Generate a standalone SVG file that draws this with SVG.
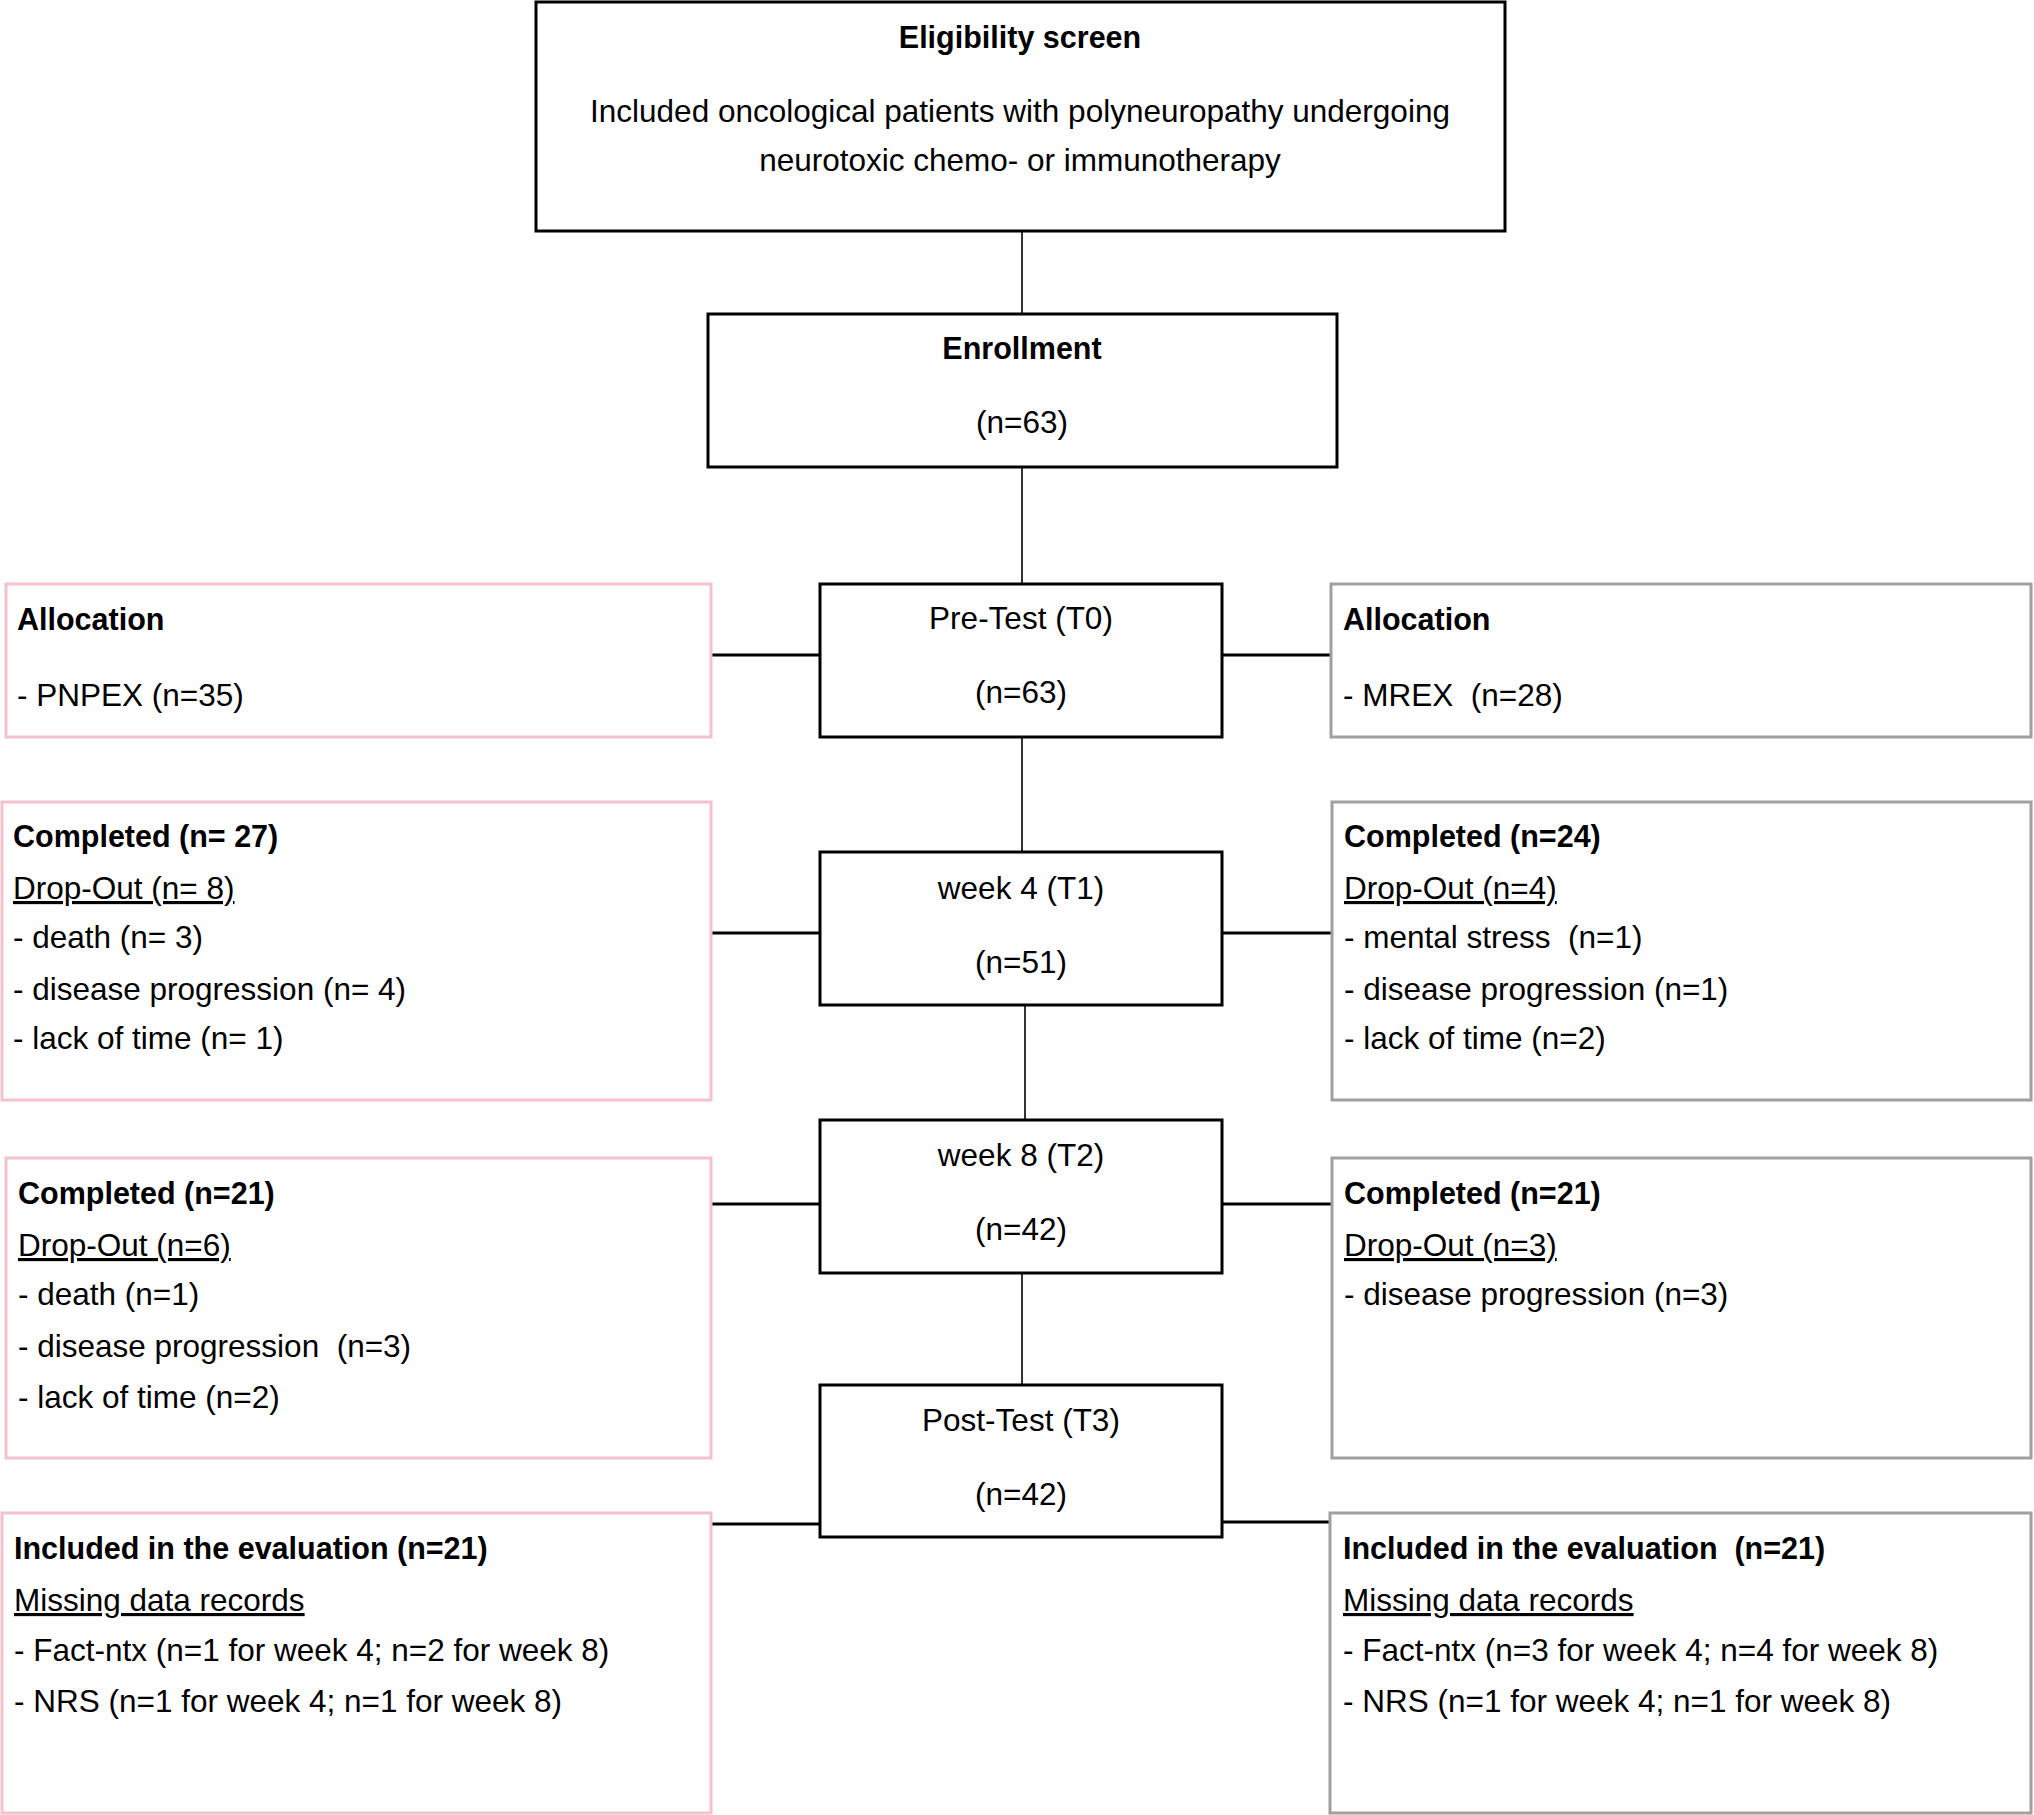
<svg xmlns="http://www.w3.org/2000/svg" width="2034" height="1815" viewBox="0 0 2034 1815">
<style>
text{font-family:"Liberation Sans",Arial,sans-serif;font-size:31.5px;fill:#000}
.b{font-weight:bold;font-size:30.5px}
.c{text-anchor:middle}
.u{text-decoration:underline}
.main{fill:#fff;stroke:#000;stroke-width:3}
.pink{fill:#fff;stroke:#f4c2cc;stroke-width:3}
.gray{fill:#fff;stroke:#a0a0a0;stroke-width:3}
.v{stroke:#000;stroke-width:1.6;fill:none}
.h{stroke:#000;stroke-width:2.8;fill:none}
</style>
<rect width="2034" height="1815" fill="#fff"/>
<g id="connectors">
<line class="v" x1="1022" y1="231" x2="1022" y2="314"/>
<line class="v" x1="1022" y1="467" x2="1022" y2="584"/>
<line class="v" x1="1022" y1="737" x2="1022" y2="852"/>
<line class="v" x1="1025" y1="1005" x2="1025" y2="1120"/>
<line class="v" x1="1022" y1="1273" x2="1022" y2="1385"/>
<line class="h" x1="711" y1="655" x2="820" y2="655"/>
<line class="h" x1="1222" y1="655" x2="1331" y2="655"/>
<line class="h" x1="711" y1="933" x2="820" y2="933"/>
<line class="h" x1="1222" y1="933" x2="1332" y2="933"/>
<line class="h" x1="711" y1="1204" x2="820" y2="1204"/>
<line class="h" x1="1222" y1="1204" x2="1332" y2="1204"/>
<line class="h" x1="711" y1="1524" x2="820" y2="1524"/>
<line class="h" x1="1222" y1="1522" x2="1330" y2="1522"/>
</g>
<g id="eligibility">
<rect class="main" x="536" y="2" width="969" height="229"/>
<text class="b c" x="1020" y="48">Eligibility screen</text>
<text class="c" x="1020" y="122">Included oncological patients with polyneuropathy undergoing</text>
<text class="c" x="1020" y="171">neurotoxic chemo- or immunotherapy</text>
</g>
<g id="enrollment">
<rect class="main" x="708" y="314" width="629" height="153"/>
<text class="b c" x="1022" y="359">Enrollment</text>
<text class="c" x="1022" y="433">(n=63)</text>
</g>
<g id="pretest">
<rect class="main" x="820" y="584" width="402" height="153"/>
<text class="c" x="1021" y="629">Pre-Test (T0)</text>
<text class="c" x="1021" y="703">(n=63)</text>
</g>
<g id="week4">
<rect class="main" x="820" y="852" width="402" height="153"/>
<text class="c" x="1021" y="899">week 4 (T1)</text>
<text class="c" x="1021" y="973">(n=51)</text>
</g>
<g id="week8">
<rect class="main" x="820" y="1120" width="402" height="153"/>
<text class="c" x="1021" y="1166">week 8 (T2)</text>
<text class="c" x="1021" y="1240">(n=42)</text>
</g>
<g id="posttest">
<rect class="main" x="820" y="1385" width="402" height="152"/>
<text class="c" x="1021" y="1431">Post-Test (T3)</text>
<text class="c" x="1021" y="1505">(n=42)</text>
</g>
<g id="alloc-left">
<rect class="pink" x="6" y="584" width="705" height="153"/>
<text class="b" x="17" y="630">Allocation</text>
<text x="17" y="706">- PNPEX (n=35)</text>
</g>
<g id="alloc-right">
<rect class="gray" x="1331" y="584" width="700" height="153"/>
<text class="b" x="1343" y="630">Allocation</text>
<text x="1343" y="706" xml:space="preserve">- MREX  (n=28)</text>
</g>
<g id="t1-left">
<rect class="pink" x="2" y="802" width="709" height="298"/>
<text class="b" x="13" y="847">Completed (n= 27)</text>
<text class="u" x="13" y="899">Drop-Out (n= 8)</text>
<text x="13" y="948">- death (n= 3)</text>
<text x="13" y="1000">- disease progression (n= 4)</text>
<text x="13" y="1049">- lack of time (n= 1)</text>
</g>
<g id="t1-right">
<rect class="gray" x="1332" y="802" width="699" height="298"/>
<text class="b" x="1344" y="847">Completed (n=24)</text>
<text class="u" x="1344" y="899">Drop-Out (n=4)</text>
<text x="1344" y="948" xml:space="preserve">- mental stress  (n=1)</text>
<text x="1344" y="1000">- disease progression (n=1)</text>
<text x="1344" y="1049">- lack of time (n=2)</text>
</g>
<g id="t2-left">
<rect class="pink" x="6" y="1158" width="705" height="300"/>
<text class="b" x="18" y="1204">Completed (n=21)</text>
<text class="u" x="18" y="1256">Drop-Out (n=6)</text>
<text x="18" y="1305">- death (n=1)</text>
<text x="18" y="1357" xml:space="preserve">- disease progression  (n=3)</text>
<text x="18" y="1408">- lack of time (n=2)</text>
</g>
<g id="t2-right">
<rect class="gray" x="1332" y="1158" width="699" height="300"/>
<text class="b" x="1344" y="1204">Completed (n=21)</text>
<text class="u" x="1344" y="1256">Drop-Out (n=3)</text>
<text x="1344" y="1305">- disease progression (n=3)</text>
</g>
<g id="eval-left">
<rect class="pink" x="2" y="1513" width="709" height="300"/>
<text class="b" x="14" y="1559">Included in the evaluation (n=21)</text>
<text class="u" x="14" y="1611">Missing data records</text>
<text x="14" y="1661">- Fact-ntx (n=1 for week 4; n=2 for week 8)</text>
<text x="14" y="1712">- NRS (n=1 for week 4; n=1 for week 8)</text>
</g>
<g id="eval-right">
<rect class="gray" x="1330" y="1513" width="701" height="300"/>
<text class="b" x="1343" y="1559" xml:space="preserve">Included in the evaluation  (n=21)</text>
<text class="u" x="1343" y="1611">Missing data records</text>
<text x="1343" y="1661">- Fact-ntx (n=3 for week 4; n=4 for week 8)</text>
<text x="1343" y="1712">- NRS (n=1 for week 4; n=1 for week 8)</text>
</g>
</svg>
